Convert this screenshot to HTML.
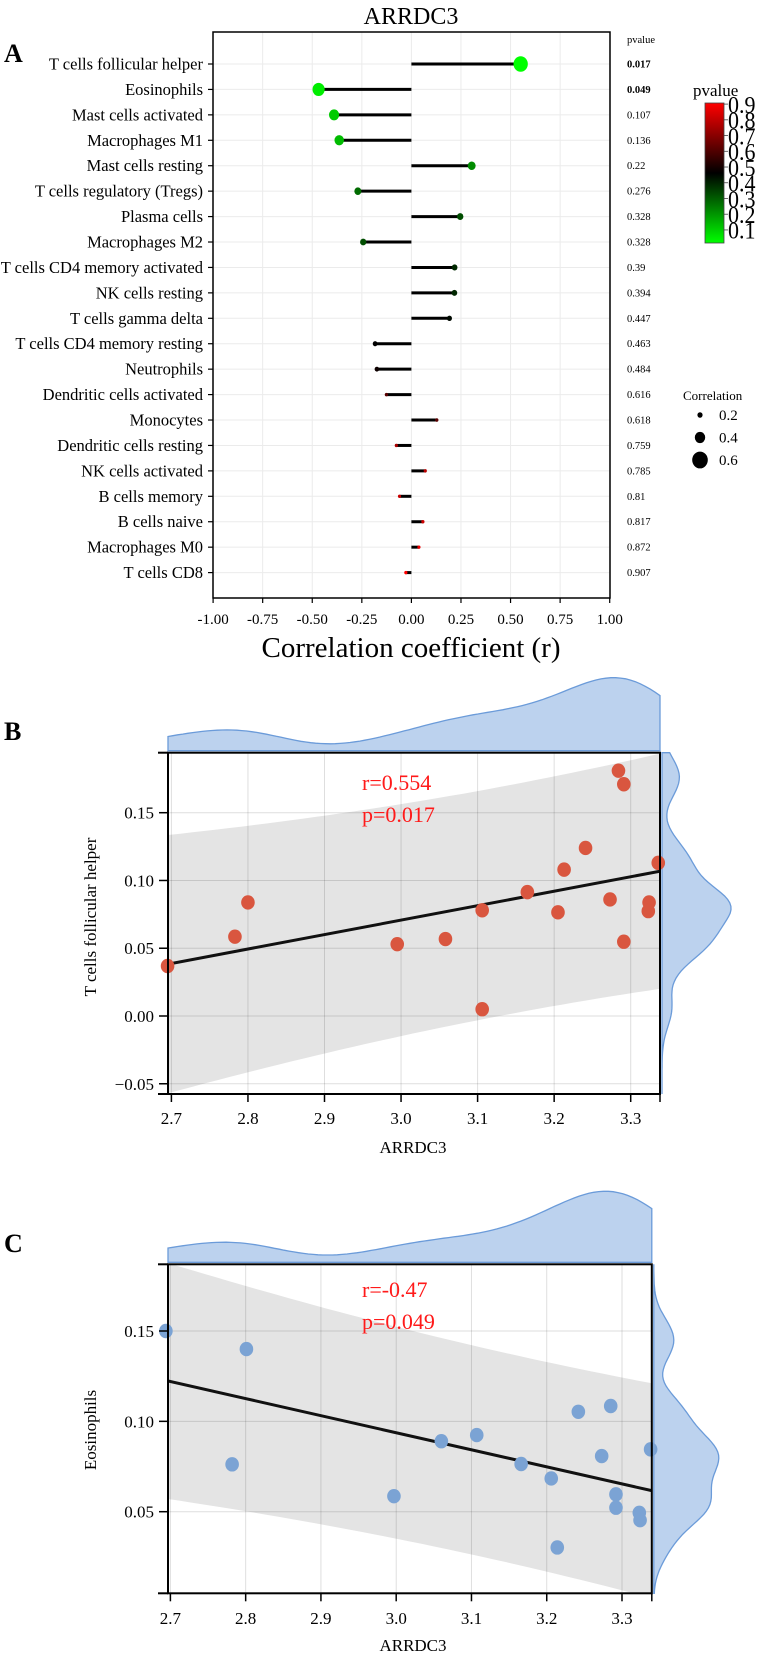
<!DOCTYPE html>
<html><head><meta charset="utf-8">
<style>
html,body{margin:0;padding:0;background:#fff;}
svg{display:block;font-family:"Liberation Serif",serif;}
</style></head>
<body>
<svg id="fig" width="761" height="1653" viewBox="0 0 761 1653" xmlns="http://www.w3.org/2000/svg">
<defs>
<linearGradient id="pgrad" x1="0" y1="1" x2="0" y2="0">
<stop offset="0" stop-color="#00ff00"/><stop offset="0.5" stop-color="#000000"/><stop offset="1" stop-color="#ff0000"/>
</linearGradient>
<clipPath id="clipB"><rect x="168" y="752.7" width="492" height="341.3"/></clipPath>
<clipPath id="clipC"><rect x="168" y="1264.3" width="483.8" height="329"/></clipPath>
</defs>
<g id="A"></g>
<g id="B"></g>
<g id="C"></g>
</svg>
<script>
// ---------- Panel A data ----------
const cellTypes = ["T cells follicular helper","Eosinophils","Mast cells activated","Macrophages M1","Mast cells resting","T cells regulatory (Tregs)","Plasma cells","Macrophages M2","T cells CD4 memory activated","NK cells resting","T cells gamma delta","T cells CD4 memory resting","Neutrophils","Dendritic cells activated","Monocytes","Dendritic cells resting","NK cells activated","B cells memory","B cells naive","Macrophages M0","T cells CD8"];
const corrValues = [0.551,-0.468,-0.39,-0.364,0.304,-0.27,0.246,-0.243,0.218,0.217,0.192,-0.183,-0.174,-0.126,0.128,-0.076,0.07,-0.06,0.058,0.038,-0.028];
const pValues = [0.017,0.049,0.107,0.136,0.22,0.276,0.328,0.328,0.39,0.394,0.447,0.463,0.484,0.616,0.618,0.759,0.785,0.81,0.817,0.872,0.907];
const pLabels = ["0.017","0.049","0.107","0.136","0.22","0.276","0.328","0.328","0.39","0.394","0.447","0.463","0.484","0.616","0.618","0.759","0.785","0.81","0.817","0.872","0.907"];
const corrTicks = [-1,-0.75,-0.5,-0.25,0,0.25,0.5,0.75,1];
const corrTickLabels = ["-1.00","-0.75","-0.50","-0.25","0.00","0.25","0.50","0.75","1.00"];
const pBarTicks = [0.1,0.2,0.3,0.4,0.5,0.6,0.7,0.8,0.9];
const sizeLegend = [0.2,0.4,0.6];

// ---------- Panel B data ----------
const bExpr = [2.695,2.783,2.8,2.995,3.058,3.106,3.106,3.165,3.205,3.213,3.241,3.273,3.284,3.291,3.291,3.324,3.323,3.336];
const bTfh  = [0.0369,0.0585,0.0838,0.053,0.0568,0.078,0.005,0.0914,0.0765,0.108,0.124,0.086,0.181,0.171,0.0548,0.0838,0.0774,0.113];
const bXTicks = [2.7,2.8,2.9,3.0,3.1,3.2,3.3];
const bYTicks = [-0.05,0,0.05,0.10,0.15];
const bYTickLabels = ["\u22120.05","0.00","0.05","0.10","0.15"];

// ---------- Panel C data ----------
const cExpr = [2.694,2.801,2.782,2.997,3.06,3.107,3.166,3.206,3.242,3.285,3.273,3.292,3.292,3.323,3.324,3.338,3.214];
const cEos  = [0.150,0.140,0.0762,0.0586,0.089,0.0924,0.0764,0.0684,0.1053,0.1085,0.0808,0.0596,0.0522,0.0494,0.0453,0.0845,0.0302];
const cXTicks = [2.7,2.8,2.9,3.0,3.1,3.2,3.3];
const cYTicks = [0.05,0.10,0.15];
const cYTickLabels = ["0.05","0.10","0.15"];

const NS="http://www.w3.org/2000/svg";
function mk(parent,tag,attrs,text){const e=document.createElementNS(NS,tag);for(const k in attrs)e.setAttribute(k,attrs[k]);if(text!==undefined)e.textContent=text;parent.appendChild(e);return e;}

// ================= Panel A =================
(function(){
const g=document.getElementById('A');
const L=213,R=610,T=32,Bt=598;
const xs=v=>411.4+v*198.3;
const ys=i=>64+i*25.43;
const pmin=0.017,pmax=0.907;
function pcol(p){let t=(p-pmin)/(pmax-pmin);t=Math.max(0,Math.min(1,t));
 if(t<0.5){return 'rgb(0,'+Math.round(255*(1-2*t))+',0)';} return 'rgb('+Math.round(255*(2*t-1))+',0,0)';}
let e;
e=mk(g,'text',{x:411,y:24,'text-anchor':'middle','font-size':24},'ARRDC3');

e=mk(g,'text',{x:4,y:62,'font-size':26,'font-weight':'bold'},'A');

corrTicks.forEach(t=>{e=mk(g,'line',{x1:xs(t),x2:xs(t),y1:T,y2:Bt,stroke:'#ebebeb','stroke-width':1});
 });
cellTypes.forEach((c,i)=>{e=mk(g,'line',{x1:L,x2:R,y1:ys(i),y2:ys(i),stroke:'#ebebeb','stroke-width':1});
 });
e=mk(g,'rect',{x:L,y:T,width:R-L,height:Bt-T,fill:'none',stroke:'#000','stroke-width':1.5});

corrTicks.forEach((t,i)=>{e=mk(g,'line',{x1:xs(t),x2:xs(t),y1:Bt,y2:Bt+5,stroke:'#000','stroke-width':1.2});
 
 e=mk(g,'text',{x:xs(t),y:624,'text-anchor':'middle','font-size':15},corrTickLabels[i]);
 });
e=mk(g,'text',{x:411,y:657,'text-anchor':'middle','font-size':29},'Correlation coefficient (r)');

cellTypes.forEach((c,i)=>{
 const y=ys(i);
 e=mk(g,'line',{x1:L-5,x2:L,y1:y,y2:y,stroke:'#000','stroke-width':1.2});
 
 e=mk(g,'text',{x:203,y:y+5.5,'text-anchor':'end','font-size':16.5},c);
 
 e=mk(g,'line',{x1:xs(0),x2:xs(corrValues[i]),y1:y,y2:y,stroke:'#000','stroke-width':3});
 
 const r=Math.max(1.6,13*Math.abs(corrValues[i]));
 e=mk(g,'ellipse',{cx:xs(corrValues[i]),cy:y,rx:r,ry:r*1.08,fill:pcol(pValues[i])});
 
 e=mk(g,'text',{x:627,y:y+3.5,'font-size':10.5,'font-weight':i<2?'bold':'normal'},pLabels[i]);
 
});
e=mk(g,'text',{x:627,y:43,'font-size':10.5},'pvalue');

const cbT=103,cbB=243;
const cy=p=>cbB-(p-pmin)/(pmax-pmin)*(cbB-cbT);
e=mk(g,'text',{x:693,y:96,'font-size':17},'pvalue');

e=mk(g,'rect',{x:705,y:cbT,width:19,height:cbB-cbT,fill:'url(#pgrad)',stroke:'#444','stroke-width':0.8});

pBarTicks.forEach(p=>{e=mk(g,'line',{x1:724,x2:728,y1:cy(p),y2:cy(p),stroke:'#444','stroke-width':0.8});
 
 e=mk(g,'text',{x:728,y:cy(p)+8,'font-size':22,transform:'translate(728,'+cy(p)+') scale(1,1.1) translate(-728,'+(-cy(p))+')'},String(p));
 });
e=mk(g,'text',{x:683,y:400,'font-size':13},'Correlation');

sizeLegend.forEach((s,i)=>{const y=415+i*22.5;
 e=mk(g,'ellipse',{cx:700,cy:y,rx:13*s,ry:13*s*1.08,fill:'#000'});
 
 e=mk(g,'text',{x:719,y:y+5,'font-size':15},s.toFixed(1));
 });
})();

// ================= scatter panels =================
function kde(vals,grid,bwMul){const n=vals.length;const m=vals.reduce((a,b)=>a+b,0)/n;
 const sd=Math.sqrt(vals.reduce((a,b)=>a+(b-m)*(b-m),0)/(n-1));const h=sd*Math.pow(n,-0.2)*bwMul;
 return grid.map(x=>vals.reduce((a,v)=>a+Math.exp(-0.5*((x-v)/h)**2),0));}

function scatter(gid,cfg){
 const g=document.getElementById(gid);
 const {xv,yv,L,R,T,Bt,xs,ys,xT,yT,yTL,color,rTxt,pTxt,ylab,ylabCY,clip,label,topH,rightH,txtY,tickLY,xlabY}=cfg;
 const xmin=xs.inv(L),xmax=xs.inv(R),ymin=ys.inv(Bt),ymax=ys.inv(T);
 let e;
 e=mk(g,'text',{x:4,y:label.y,'font-size':26,'font-weight':'bold'},label.t);
 
 const NG=100;const gx=[];for(let i=0;i<=NG;i++)gx.push(xmin+(xmax-xmin)*i/NG);
 const dx=kde(xv,gx,0.55);const mx=Math.max(...dx);
 let d='M'+xs(xmin)+','+(T-2);gx.forEach((x,i)=>{d+=' L'+xs(x).toFixed(1)+','+(T-2-dx[i]/mx*topH).toFixed(1);});d+=' L'+xs(xmax)+','+(T-2)+' Z';
 e=mk(g,'path',{d:d,fill:'#bcd2ee',stroke:'#6b9bd9','stroke-width':1.3});
 
 const gy=[];for(let i=0;i<=NG;i++)gy.push(ymin+(ymax-ymin)*i/NG);
 const dy=kde(yv,gy,0.55);const my=Math.max(...dy);
 d='M'+(R+2)+','+ys(ymin);gy.forEach((y,i)=>{d+=' L'+(R+2+dy[i]/my*rightH).toFixed(1)+','+ys(y).toFixed(1);});d+=' L'+(R+2)+','+ys(ymax)+' Z';
 e=mk(g,'path',{d:d,fill:'#bcd2ee',stroke:'#6b9bd9','stroke-width':1.3});
 
 const n=xv.length;const mxv=xv.reduce((a,b)=>a+b,0)/n,myv=yv.reduce((a,b)=>a+b,0)/n;
 let sxx=0,sxy=0;for(let i=0;i<n;i++){sxx+=(xv[i]-mxv)**2;sxy+=(xv[i]-mxv)*(yv[i]-myv);}
 const b=sxy/sxx,a=myv-b*mxv;let sse=0;for(let i=0;i<n;i++)sse+=(yv[i]-a-b*xv[i])**2;
 const s=Math.sqrt(sse/(n-2));const tq=2.12;
 const x0=xs.inv(L),x1=xs.inv(R);const up=[],lo=[];
 for(let i=0;i<=40;i++){const x=x0+(x1-x0)*i/40;const yh=a+b*x;const w=tq*s*Math.sqrt(1+1/n+(x-mxv)**2/sxx);up.push([xs(x),ys(yh+w)]);lo.push([xs(x),ys(yh-w)]);}
 const cg=mk(g,'g',{'clip-path':'url(#'+clip+')'});
 
 d='M'+up.map(p=>p[0].toFixed(1)+','+p[1].toFixed(1)).join(' L')+' L'+lo.reverse().map(p=>p[0].toFixed(1)+','+p[1].toFixed(1)).join(' L')+' Z';
 e=mk(cg,'path',{d:d,fill:'#e4e4e4'});
 
 xT.forEach(t=>{e=mk(cg,'line',{x1:xs(t),x2:xs(t),y1:T,y2:Bt,stroke:'rgba(0,0,0,0.13)','stroke-width':1});
  });
 yT.forEach(t=>{e=mk(cg,'line',{x1:L,x2:R,y1:ys(t),y2:ys(t),stroke:'rgba(0,0,0,0.13)','stroke-width':1});
  });
 e=mk(cg,'line',{x1:L,x2:R,y1:ys(a+b*x0),y2:ys(a+b*x1),stroke:'#111','stroke-width':3});
 
 xv.forEach((x,i)=>{e=mk(g,'ellipse',{cx:xs(x),cy:ys(yv[i]),rx:6.8,ry:7.2,fill:color});
  });
 e=mk(g,'rect',{x:L,y:T,width:R-L,height:Bt-T,fill:'none',stroke:'#000','stroke-width':2});
 
 e=mk(g,'line',{x1:L-10,x2:L,y1:T,y2:T,stroke:'#000','stroke-width':2});
 
 e=mk(g,'line',{x1:L-10,x2:L,y1:Bt,y2:Bt,stroke:'#000','stroke-width':2});
 
 xT.forEach(t=>{e=mk(g,'line',{x1:xs(t),x2:xs(t),y1:Bt,y2:Bt+8,stroke:'#000','stroke-width':1.5});
  
  e=mk(g,'text',{x:xs(t),y:tickLY,'text-anchor':'middle','font-size':17},t.toFixed(1));
  });
 e=mk(g,'line',{x1:R,x2:R,y1:Bt,y2:Bt+8,stroke:'#000','stroke-width':1.5});
 
 yT.forEach((t,i)=>{e=mk(g,'line',{x1:L-9,x2:L,y1:ys(t),y2:ys(t),stroke:'#000','stroke-width':1.5});
  
  e=mk(g,'text',{x:L-14,y:ys(t)+6,'text-anchor':'end','font-size':17},yTL[i]);
  });
 e=mk(g,'text',{x:413,y:xlabY,'text-anchor':'middle','font-size':17},'ARRDC3');
 
 e=mk(g,'text',{x:0,y:0,'text-anchor':'middle','font-size':17,transform:'translate(96,'+ylabCY+') rotate(-90)'},ylab);
 
 e=mk(g,'text',{x:362,y:txtY,'font-size':22,fill:'#ff1a1a'},rTxt);
 
 e=mk(g,'text',{x:362,y:txtY+32,'font-size':22,fill:'#ff1a1a'},pTxt);
 
}
function lin(d0,d1,r0,r1){const f=v=>r0+(v-d0)/(d1-d0)*(r1-r0);f.inv=p=>d0+(p-r0)/(r1-r0)*(d1-d0);return f;}

scatter('B',{xv:bExpr,yv:bTfh,L:168,R:660,T:752.7,Bt:1094,
 xs:lin(2.7,3.3,171.4,630.7),ys:lin(0,0.15,1016,812.7),xT:bXTicks,yT:bYTicks,yTL:bYTickLabels,
 color:'#d9563f',rTxt:'r=0.554',pTxt:'p=0.017',ylab:'T cells follicular helper',ylabCY:917,clip:'clipB',
 label:{t:'B',y:740},topH:73,rightH:69,txtY:790,tickLY:1124,xlabY:1153});
scatter('C',{xv:cExpr,yv:cEos,L:168,R:651.8,T:1264.3,Bt:1593.3,
 xs:lin(2.7,3.3,170.4,622),ys:lin(0.05,0.15,1511.7,1331),xT:cXTicks,yT:cYTicks,yTL:cYTickLabels,
 color:'#7ba3d4',rTxt:'r=-0.47',pTxt:'p=0.049',ylab:'Eosinophils',ylabCY:1430,clip:'clipC',
 label:{t:'C',y:1252},topH:71,rightH:65,txtY:1297,tickLY:1624,xlabY:1651});
</script>
</body></html>
